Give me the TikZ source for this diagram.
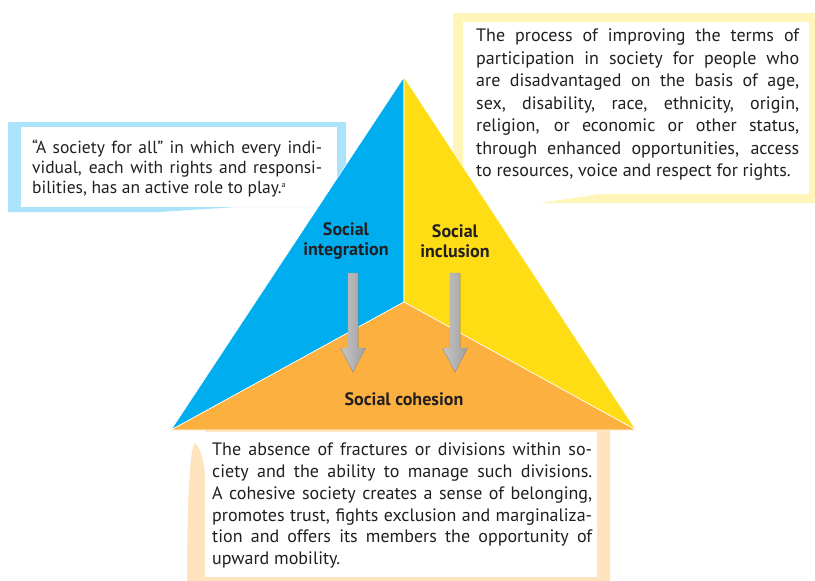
\documentclass[tikz,border=0pt]{standalone}
\usepackage{fontspec}
\setmainfont{PT Sans}
\usepackage{xcolor}

\begin{document}
\begin{tikzpicture}[x=1pt,y=-1pt]
      \definecolor{integcolor}{RGB}{0,174,239}
      \definecolor{inclcolor}{RGB}{255,221,21}
      \definecolor{cohecolor}{RGB}{251,176,64}
      \definecolor{textgray}{RGB}{35,31,32}
      \colorlet{integframe}{integcolor!33}
      \colorlet{inclframe}{inclcolor!30}
      \colorlet{coheframe}{cohecolor!35}
      \tikzset{boxtext/.style={anchor=north west,inner sep=0pt,align=justify,text=textgray},
        labeltext/.style={align=center,text=textgray,font=\bfseries\fontsize{18}{20.5}\selectfont},
        region/.style={draw=white,line width=0.6pt,line join=round},
        arrowshade/.style={draw=gray!75,line width=0.4pt,left color=gray!45,middle color=gray!12,right color=gray!75}}

      \useasboundingbox (0,0) rectangle (815,581);

      % frames of the three text boxes
      \fill[integframe] (8,122) -- (346,122) -- (346,207) -- (237,207) -- (160,212) -- (8,212) -- cycle;
      \fill[white] (21,127) rectangle (337,207);
      \fill[inclframe] (453,13) -- (815,13) -- (815,203) -- (540,203) -- (600,194) -- (453,194) -- cycle;
      \fill[white] (463,22) rectangle (809,194);
      \fill[coheframe] (205,430) -- (610,430) -- (610,581) -- (187,581)
          .. controls (187,520) and (189,447) .. (195,443)
          .. controls (200,447) and (204,460) .. (205,475) -- cycle;
      \fill[white] (205,432) rectangle (597,577);

      % the triangle
      \coordinate (top) at (404,77);
      \coordinate (mid) at (404,302);
      \coordinate (bl) at (171,430);
      \coordinate (br) at (636,430);
      \filldraw[region,fill=integcolor] (top) -- (mid) -- (bl) -- cycle;
      \filldraw[region,fill=inclcolor] (top) -- (br) -- (mid) -- cycle;
      \filldraw[region,fill=cohecolor] (bl) -- (mid) -- (br) -- cycle;

      \node[labeltext] (integ) at (346,241) {Social\\integration};
      \node[labeltext] (incl) at (455,241) {Social\\inclusion};
      \node[labeltext] (cohe) at (404,399) {Social cohesion};

      \foreach \ax in {353,455}
          \filldraw[arrowshade] (\ax-5,273) -- (\ax+5,273) -- (\ax+5,348) -- (\ax+12.5,348)
              -- (\ax,372) -- (\ax-12.5,348) -- (\ax-5,348) -- cycle;

      \node[boxtext,text width=290,font=\fontsize{17.5}{20}\selectfont] (integtext) at (32,140)
          {“A society for all” in which every indi-\linebreak vidual, each with rights and responsi-\linebreak bilities, has an active role to play.\raisebox{6pt}{\fontsize{8}{8}\selectfont a}};
      \node[boxtext,text width=323,font=\fontsize{18}{22.5}\selectfont] (incltext) at (476,29)
          {The process of improving the terms of\linebreak participation in society for people who\linebreak are disadvantaged on the basis of age,\linebreak sex, disability, race, ethnicity, origin,\linebreak religion, or economic or other status,\linebreak through enhanced opportunities, access\linebreak to resources, voice and respect for rights.};
      \node[boxtext,text width=380,font=\fontsize{18}{21.7}\selectfont] (cohetext) at (212,443)
          {The absence of fractures or divisions within so-\linebreak ciety and the ability to manage such divisions.\linebreak A cohesive society creates a sense of belonging,\linebreak promotes trust, fights exclusion and marginaliza-\linebreak tion and offers its members the opportunity of\linebreak upward mobility.};
\end{tikzpicture}
\end{document}
